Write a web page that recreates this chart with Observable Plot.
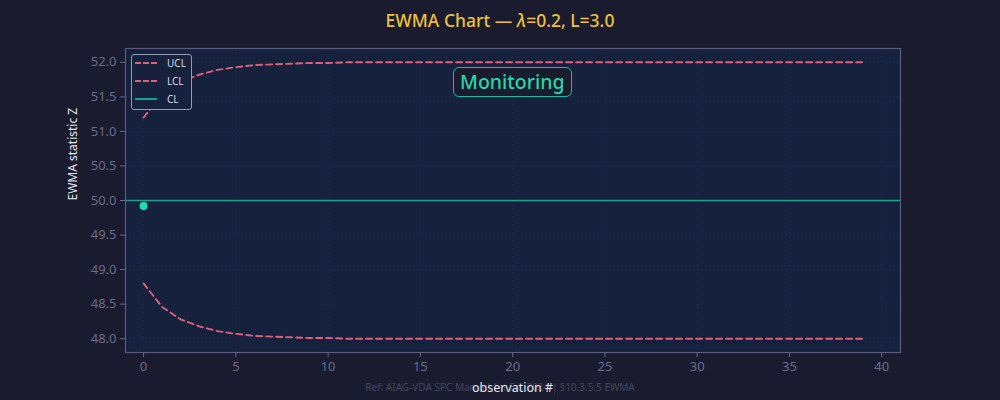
<!DOCTYPE html>
<html><head><meta charset="utf-8">
<script src="https://cdn.jsdelivr.net/npm/d3@7"></script>
<script src="https://cdn.jsdelivr.net/npm/@observablehq/plot@0.6"></script>
<style>
html,body{margin:0;padding:0;background:#1a1b2e;}
#wrap{position:relative;width:1000px;height:400px;background:#1a1b2e;font-family:"Noto Sans","Open Sans",sans-serif;overflow:hidden;}
#title{position:absolute;top:8px;left:0;width:1000px;text-align:center;color:#f0c03c;font-size:17.5px;font-weight:500;}
#legend{position:absolute;left:131px;top:54px;width:59px;height:54px;border:1.3px solid #9a9ab0;border-radius:3px;background:#16213e;font-size:10px;color:#d8d8e4;}
.li{position:absolute;left:3px;height:14px;display:flex;align-items:center;}
.sw{width:22px;height:0;margin-right:10px;}
#badge{position:absolute;left:453px;top:67px;padding:0 6px;height:30px;line-height:28px;border:1.5px solid #1abc9c;border-radius:6px;background:#1a1b2e;color:#25d6a8;font-size:19.5px;font-weight:500;box-sizing:border-box;}
#caption{position:absolute;top:380px;left:0;width:1000px;text-align:center;color:#45475f;font-size:10px;}
#xlab{position:absolute;top:379px;left:125px;width:775px;text-align:center;color:#e6e6ee;font-size:12.5px;}
</style></head>
<body>
<div id="wrap">
  <div id="chart"></div>
  <div id="title">EWMA Chart — <i>λ</i>=0.2, L=3.0</div>
  <div id="caption">Ref: AIAG-VDA SPC Manual 1st Ed. 2024 | §10.3.5.5 EWMA</div>
  <div id="xlab">observation #</div>
  <div id="legend">
    <div class="li" style="top:1px"><div class="sw" style="border-top:2px dashed #e0607a"></div>UCL</div>
    <div class="li" style="top:19px"><div class="sw" style="border-top:2px dashed #e0607a"></div>LCL</div>
    <div class="li" style="top:37px"><div class="sw" style="border-top:2px solid #16a58a"></div>CL</div>
  </div>
  <div id="badge">Monitoring</div>
</div>
<script>
const obs = [0,1,2,3,4,5,6,7,8,9,10,11,12,13,14,15,16,17,18,19,20,21,22,23,24,25,26,27,28,29,30,31,32,33,34,35,36,37,38,39];
const ucl = [51.20,51.54,51.72,51.82,51.89,51.93,51.96,51.97,51.98,51.99,51.99,52.00,52.00,52.00,52.00,52.00,52.00,52.00,52.00,52.00,52.00,52.00,52.00,52.00,52.00,52.00,52.00,52.00,52.00,52.00,52.00,52.00,52.00,52.00,52.00,52.00,52.00,52.00,52.00,52.00];
const lcl = [48.80,48.46,48.28,48.18,48.11,48.07,48.04,48.03,48.02,48.01,48.01,48.00,48.00,48.00,48.00,48.00,48.00,48.00,48.00,48.00,48.00,48.00,48.00,48.00,48.00,48.00,48.00,48.00,48.00,48.00,48.00,48.00,48.00,48.00,48.00,48.00,48.00,48.00,48.00,48.00];
const centerLine = 50.0;
const zObs = [0];
const zVals = [49.92];
const xTicks = [0,5,10,15,20,25,30,35,40];
const yTicks = [48.0,48.5,49.0,49.5,50.0,50.5,51.0,51.5,52.0];

const limits = obs.map((o,i)=>({o, ucl: ucl[i], lcl: lcl[i]}));
const points = zObs.map((o,i)=>({o, z: zVals[i]}));

const tickColor = "#6b6c8c";
const chart = Plot.plot({
  width: 1000, height: 400,
  marginLeft: 125, marginRight: 100, marginTop: 48, marginBottom: 48,
  style: {background: "transparent", fontFamily: "Noto Sans, Open Sans, sans-serif", fontSize: "13px", color: tickColor},
  x: {domain: [-0.98, 41.02], label: null},
  y: {domain: [47.8, 52.2], label: null},
  marks: [
    Plot.frame({fill: "#16213e", stroke: null}),
    Plot.gridX(xTicks, {stroke: "#2c3a5c", strokeOpacity: 0.35, strokeDasharray: "2,2"}),
    Plot.gridY(yTicks, {stroke: "#2c3a5c", strokeOpacity: 0.35, strokeDasharray: "2,2"}),
    Plot.ruleY([centerLine], {stroke: "#16a58a", strokeWidth: 1.6}),
    Plot.line(limits, {x: "o", y: "ucl", stroke: "#e0607a", strokeWidth: 1.9, strokeDasharray: "6,4"}),
    Plot.line(limits, {x: "o", y: "lcl", stroke: "#e0607a", strokeWidth: 1.9, strokeDasharray: "6,4"}),
    Plot.dot(points, {x: "o", y: "z", r: 4, fill: "#1de0b0", stroke: null}),
    Plot.axisX({ticks: xTicks, tickSize: 5, tickPadding: 4, stroke: tickColor, fill: tickColor, label: null, fontSize: 13}),
    Plot.axisY({ticks: yTicks, tickFormat: d3.format(".1f"), tickSize: 5, tickPadding: 4, stroke: tickColor, fill: tickColor, label: null, fontSize: 13}),
    Plot.text(["EWMA statistic Z"], {frameAnchor: "left", dx: -52, rotate: -90, fill: "#e6e6ee", fontSize: 12}),
    Plot.frame({stroke: "#5c5c82", strokeWidth: 1.2})
  ]
});
document.getElementById("chart").appendChild(chart);
</script>
</body></html>
